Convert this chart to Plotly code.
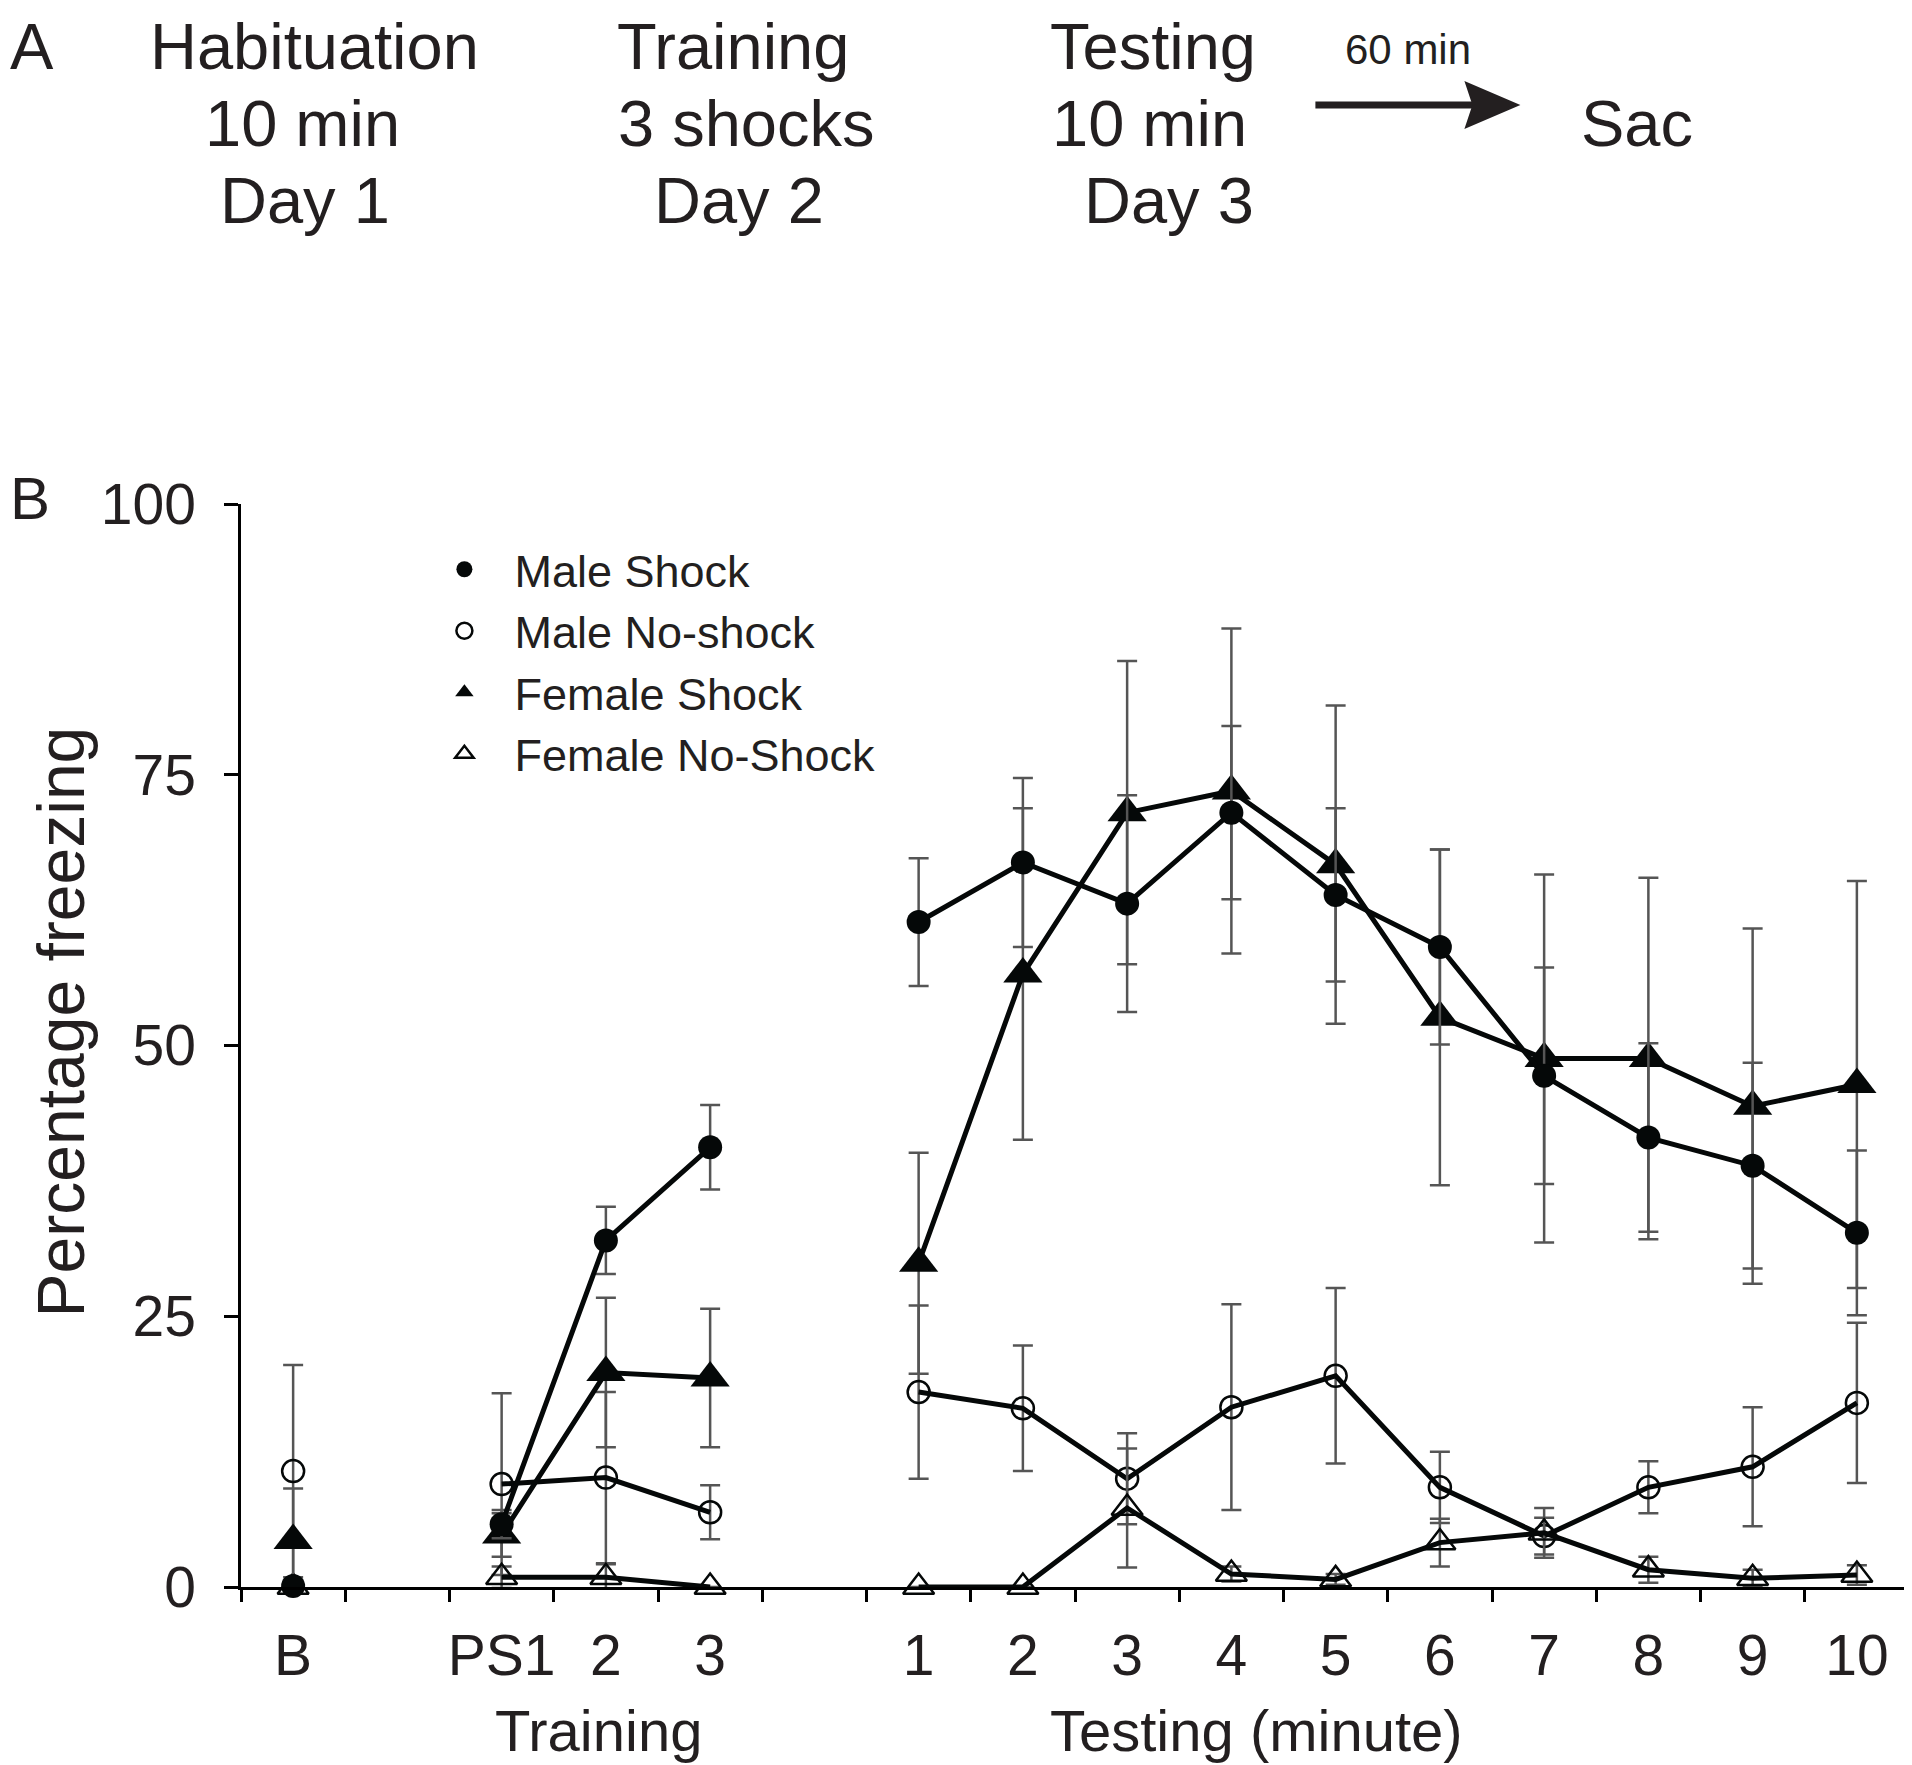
import plotly.graph_objects as go

# ---------------- data ----------------
tick_labels = ["B", "", "PS1", "2", "3", "", "1", "2", "3", "4", "5", "6", "7", "8", "9", "10"]
x_slots = list(range(len(tick_labels)))
label_slots = [i for i, t in enumerate(tick_labels) if t != ""]

male_shock = [0.1, None, 5.8, 32.0, 40.6, None, 61.4, 66.9, 63.1, 71.5, 63.9, 59.1, 47.2, 41.5, 38.9, 32.7]
male_shock_sem = [0, None, 1.3, 3.1, 3.9, None, 5.9, 7.8, 10.0, 8.0, 8.0, 9.0, 10.0, 8.7, 9.5, 7.6]

male_noshock = [10.7, None, 9.5, 10.1, 6.9, None, 18.0, 16.5, 10.0, 16.6, 19.5, 9.2, 4.7, 9.2, 11.1, 17.0]
male_noshock_sem = [9.8, None, 8.4, 7.9, 2.5, None, 8.0, 5.8, 4.2, 9.5, 8.1, 3.3, 1.7, 2.4, 5.5, 7.4]

female_shock = [4.3, None, 4.8, 19.8, 19.3, None, 29.9, 56.6, 71.5, 73.5, 66.7, 52.6, 48.8, 48.8, 44.4, 46.4]
female_shock_sem = [4.8, None, 2.0, 6.9, 6.4, None, 10.2, 15.3, 14.0, 15.0, 14.7, 15.5, 17.0, 16.7, 16.4, 18.8]

female_noshock = [0.0, None, 0.9, 0.9, 0.0, None, 0.0, 0.0, 7.3, 1.2, 0.7, 4.1, 5.0, 1.6, 0.8, 1.1]
female_noshock_sem = [0, None, 1.0, 1.2, 0, None, 0, 0, 5.5, 0.7, 0.5, 2.2, 2.3, 1.2, 0.8, 0.9]

series_names = ["Male Shock", "Male No-shock", "Female Shock", "Female No-Shock"]

# ---------------- layout geometry (figure pixels) ----------------
FW, FH = 1904, 1757          # page body adds an 8px margin
L, R, T, B = 232.6, 1900.6, 496, 1579
W, H = R - L, B - T
FONT = "Arial, Liberation Sans, Helvetica, sans-serif"
TXT = "#231f20"


def px2x(p):
    return (p - L) / W


def py2y(p):
    return (B - p) / H


fig = go.Figure()

INK = "#050808"
styles = {
    "Male Shock": dict(symbol="circle", size=24, color=INK, line=dict(width=0)),
    "Male No-shock": dict(symbol="circle-open", size=22, color=INK, line=dict(width=2.5, color=INK)),
    "Female Shock": dict(symbol="triangle-up", size=34, color=INK, line=dict(width=0)),
    "Female No-Shock": dict(symbol="triangle-up-open", size=27, color=INK, line=dict(width=2.5, color=INK)),
}
data = {
    "Male No-shock": (male_noshock, male_noshock_sem),
    "Female No-Shock": (female_noshock, female_noshock_sem),
    "Female Shock": (female_shock, female_shock_sem),
    "Male Shock": (male_shock, male_shock_sem),
}

for name in ["Male No-shock", "Female No-Shock", "Female Shock", "Male Shock"]:
    yv, ev = data[name]
    fig.add_trace(go.Scatter(
        x=x_slots, y=yv, mode="lines+markers", name=name, showlegend=False,
        line=dict(color=INK, width=5),
        marker=styles[name],
        error_y=dict(type="data", array=ev, visible=True, color="#555555", thickness=2.5, width=10),
        connectgaps=False, cliponaxis=False,
    ))

# legend entries (markers only)
for name in series_names:
    fig.add_trace(go.Scatter(x=[None], y=[None], mode="markers", name=name,
                             marker=dict(styles[name]), showlegend=True))

annotations = []


def add_text(text, xp, yp, size, xanchor="center", yanchor="middle", angle=0):
    annotations.append(dict(
        text=text, x=px2x(xp), y=py2y(yp), xref="paper", yref="paper",
        showarrow=False, xanchor=xanchor, yanchor=yanchor, textangle=angle,
        font=dict(family=FONT, size=size, color=TXT),
    ))


# Panel A (three stacked rows of text, boxes touching but not overlapping)
F1 = 65
ROW = [0, 77, 154]
add_text("A", 0, ROW[0], F1, xanchor="left", yanchor="top")
for txt, xp in [("Habituation", 306), ("Training", 725), ("Testing", 1145)]:
    add_text(txt, xp, ROW[0], F1, yanchor="top")
for txt, xp in [("10 min", 294), ("3 shocks", 738), ("10 min", 1141), ("Sac", 1628.6)]:
    add_text(txt, xp, ROW[1], F1, yanchor="top")
for txt, xp in [("Day 1", 297), ("Day 2", 731), ("Day 3", 1161)]:
    add_text(txt, xp, ROW[2], F1, yanchor="top")
add_text("60 min", 1399.5, 41.5, 42)

# arrow (shaft + head) drawn as layout shapes
ay = 97
shapes = [
    dict(type="line", xref="paper", yref="paper",
         x0=px2x(1307), x1=px2x(1466), y0=py2y(ay), y1=py2y(ay),
         line=dict(color=TXT, width=7)),
    dict(type="path", xref="paper", yref="paper",
         path="M {:.5f},{:.5f} L {:.5f},{:.5f} L {:.5f},{:.5f} L {:.5f},{:.5f} Z".format(
             px2x(1512), py2y(ay), px2x(1456), py2y(ay - 24), px2x(1464), py2y(ay),
             px2x(1456), py2y(ay + 24)),
         fillcolor=TXT, line=dict(width=0)),
]

# Panel B labels
add_text("B", 0, 490, 60, xanchor="left")
add_text("Percentage freezing", 53, 1014, 66, angle=-90)
add_text("Training", 590.5, 1722, 58)
add_text("Testing (minute)", 1248, 1722, 58)

fig.update_layout(
    width=FW, height=FH,
    margin=dict(l=L, r=FW - R, t=T, b=FH - B, pad=0, autoexpand=False),
    paper_bgcolor="white", plot_bgcolor="white",
    font=dict(family=FONT, color=TXT),
    showlegend=True,
    legend=dict(
        x=px2x(406), y=py2y(525.5), xanchor="left", yanchor="top",
        font=dict(family=FONT, size=45, color=TXT),
        bgcolor="rgba(0,0,0,0)", itemwidth=90, tracegroupgap=0,
    ),
    annotations=annotations,
    shapes=shapes,
)

fig.update_xaxes(
    range=[-0.5, 15.5], showgrid=False, zeroline=False,
    showline=True, linecolor="black", linewidth=2.5,
    tickmode="array", tickvals=label_slots, ticktext=[tick_labels[i] for i in label_slots],
    ticks="", ticklabelstandoff=17,
    tickfont=dict(family=FONT, size=57, color=TXT),
    minor=dict(tickmode="array", tickvals=[i - 0.5 for i in range(len(tick_labels) + 1)],
               ticks="outside", ticklen=12, tickwidth=2.5, tickcolor="black"),
)
fig.update_yaxes(
    range=[0, 100], showgrid=False, zeroline=False,
    showline=True, linecolor="black", linewidth=2.5,
    tickmode="array", tickvals=[0, 25, 50, 75, 100],
    ticks="outside", ticklen=14, tickwidth=2.5, tickcolor="black",
    ticklabelstandoff=17,
    tickfont=dict(family=FONT, size=57, color=TXT),
)

fig.write_html("out.html")
